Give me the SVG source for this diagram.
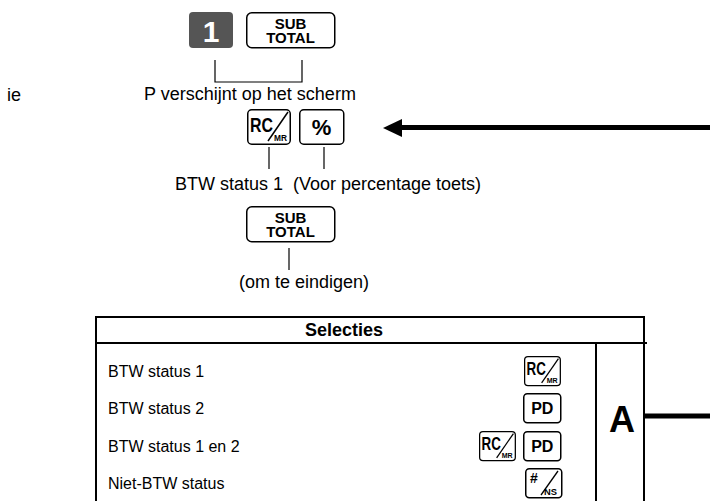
<svg xmlns="http://www.w3.org/2000/svg" xmlns:xlink="http://www.w3.org/1999/xlink" width="710" height="501" viewBox="0 0 710 501">
<style>
text{font-family:"Liberation Sans",Arial,sans-serif;fill:#000}
.t{font-size:18px}
.r{font-size:16px}
.b{font-weight:bold}
.key{fill:#fff;stroke:#000;stroke-width:1.5}
.ln{stroke:#000;stroke-width:1.2;fill:none}
.tb{stroke:#000;stroke-width:2;fill:none}
</style>
<defs>
<g id="subtotal">
<rect class="key" x="0.75" y="0.75" width="88" height="35" rx="5"/>
<text class="b" x="44.5" y="17" font-size="15" text-anchor="middle">SUB</text>
<text class="b" x="44.5" y="31" font-size="15" text-anchor="middle">TOTAL</text>
</g>
<g id="rcmr">
<rect class="key" x="0.75" y="0.75" width="42.5" height="34.5" rx="4"/>
<text class="b" x="3" y="23" font-size="21" textLength="23" lengthAdjust="spacingAndGlyphs">RC</text>
<line x1="41" y1="3" x2="21" y2="32" stroke="#000" stroke-width="1.5"/>
<text class="b" x="27" y="32" font-size="9" textLength="13" lengthAdjust="spacingAndGlyphs">MR</text>
</g>
<g id="pd">
<rect class="key" x="0.75" y="0.75" width="37" height="29" rx="3.5"/>
<text class="b" x="19.25" y="21" font-size="16" text-anchor="middle">PD</text>
</g>
<g id="nsk">
<rect class="key" x="0.75" y="0.75" width="36" height="29" rx="3.5"/>
<text class="b" x="5" y="15" font-size="14">#</text>
<line x1="33" y1="3" x2="16" y2="27" stroke="#000" stroke-width="1.3"/>
<text class="b" x="19" y="27" font-size="9" textLength="13" lengthAdjust="spacingAndGlyphs">NS</text>
</g>
</defs>

<g id="left-fragment">
<text class="t" x="21" y="101" text-anchor="end">ie</text>
</g>

<g id="key-1">
<rect x="189" y="12" width="44" height="36" rx="4" fill="#555"/>
<text class="b" x="211" y="42" font-size="30" text-anchor="middle" style="fill:#fff">1</text>
</g>

<g id="key-subtotal-1">
<use xlink:href="#subtotal" href="#subtotal" x="246" y="12"/>
</g>

<g id="label-p">
<text class="t" x="250" y="100" text-anchor="middle">P verschijnt op het scherm</text>
</g>

<g id="key-rcmr">
<use xlink:href="#rcmr" href="#rcmr" x="247" y="109"/>
</g>

<g id="key-percent">
<rect class="key" x="299.75" y="109.75" width="44" height="34.5" rx="4"/>
<text class="b" x="321.5" y="135" font-size="22" text-anchor="middle">%</text>
</g>

<g id="label-btw">
<text class="t" y="190"><tspan x="175">BTW status 1</tspan><tspan x="293">(Voor percentage toets)</tspan></text>
</g>

<g id="key-subtotal-2">
<use xlink:href="#subtotal" href="#subtotal" x="246" y="206"/>
</g>

<g id="label-end">
<text class="t" x="239" y="288">(om te eindigen)</text>
</g>

<g id="table">
<line class="tb" x1="95" y1="317" x2="645" y2="317"/>
<line class="tb" x1="95" y1="343" x2="647" y2="343"/>
<line class="tb" x1="96" y1="316" x2="96" y2="501"/>
<line class="tb" x1="644" y1="316" x2="644" y2="501"/>
<line class="tb" x1="596" y1="343" x2="596" y2="501"/>
<text class="t b" x="344" y="336" text-anchor="middle">Selecties</text>
<text class="r" x="108" y="377">BTW status 1</text>
<text class="r" x="108" y="414">BTW status 2</text>
<text class="r" x="108" y="452">BTW status 1 en 2</text>
<text class="r" x="108" y="489">Niet-BTW status</text>
<use xlink:href="#rcmr" href="#rcmr" transform="translate(524,356) scale(0.84)"/>
<use xlink:href="#pd" href="#pd" x="523" y="393"/>
<use xlink:href="#rcmr" href="#rcmr" transform="translate(479,431) scale(0.84)"/>
<use xlink:href="#pd" href="#pd" x="523" y="431"/>
<use xlink:href="#nsk" href="#nsk" x="525" y="468"/>
<text class="b" x="622" y="432" font-size="36" text-anchor="middle">A</text>
</g>

<g id="connectors">
<path class="ln" d="M215,60 V82 H302 V60"/>
<line class="ln" x1="269" y1="147" x2="269" y2="169"/>
<line class="ln" x1="324" y1="147" x2="324" y2="169"/>
<line class="ln" x1="289" y1="248" x2="289" y2="270"/>
<line x1="400" y1="127.5" x2="710" y2="127.5" stroke="#000" stroke-width="5"/>
<polygon points="383,128 402,119 402,137" fill="#000"/>
<line x1="645" y1="416" x2="710" y2="416" stroke="#000" stroke-width="5"/>
</g>
</svg>
